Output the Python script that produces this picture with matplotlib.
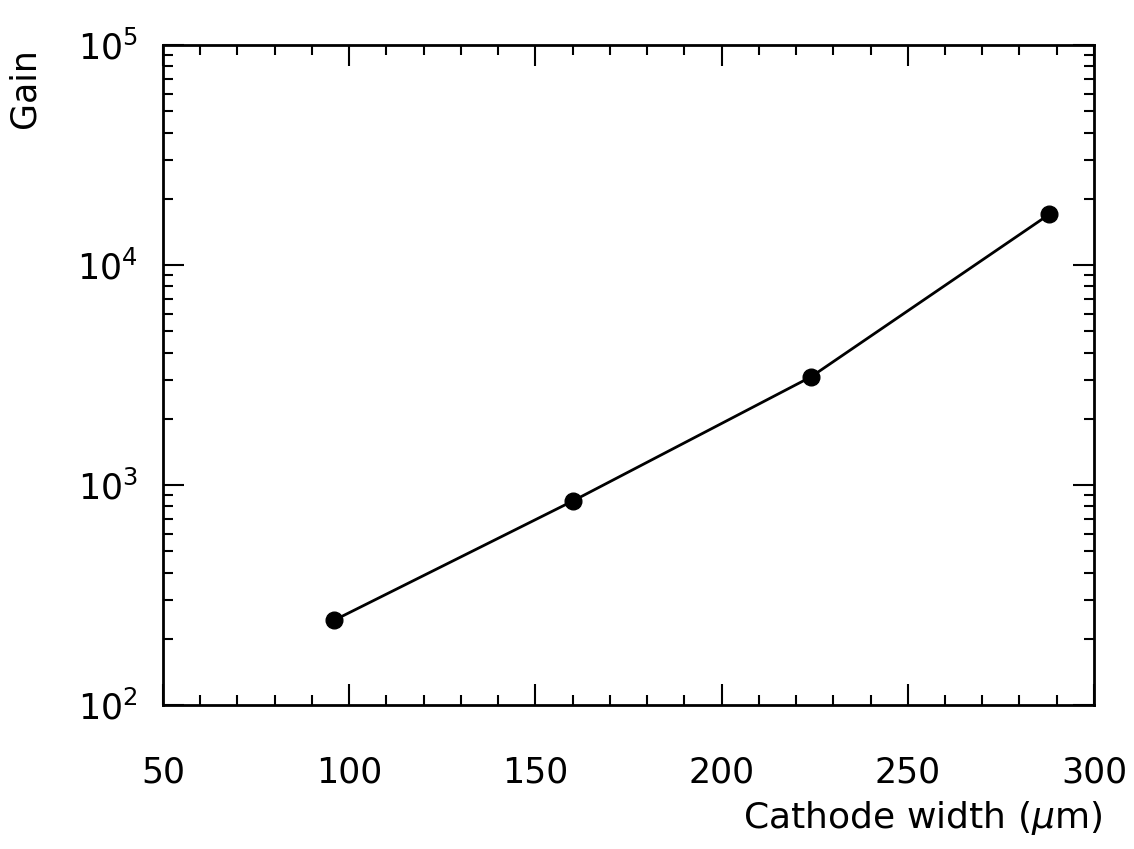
import math
import matplotlib.pyplot as plt
from matplotlib.ticker import LogLocator, MultipleLocator, FixedLocator, FuncFormatter

plt.rcParams['font.family'] = ['DejaVu Sans']
plt.rcParams['mathtext.fontset'] = 'dejavusans'

# cathode width (um) vs. gas gain
cathode_width = [96, 160, 224, 288]
gain = [243, 845, 3100, 17000]

fig = plt.figure(figsize=(11.34, 8.49), dpi=100)
ax = fig.add_axes([0.1437, 0.1696, 0.8210, 0.7774])

ax.plot(cathode_width, gain, color='black', linewidth=2.0,
        marker='o', markersize=12, markerfacecolor='black', markeredgecolor='black')

ax.set_yscale('log')
ax.set_xlim(50, 300)
ax.set_ylim(1e2, 1e5)

ax.xaxis.set_major_locator(MultipleLocator(50))
ax.xaxis.set_minor_locator(MultipleLocator(10))
ax.yaxis.set_major_locator(FixedLocator([1e2, 1e3, 1e4, 1e5]))
ax.yaxis.set_minor_locator(LogLocator(base=10, subs=range(2, 10), numticks=20))
ax.yaxis.set_major_formatter(FuncFormatter(lambda v, _: r'$10^{%d}$' % round(math.log10(v))))

ax.tick_params(which='both', direction='in', top=True, right=True, width=1.5, colors='black')
ax.tick_params(which='major', length=15, labelsize=25, pad=18)
ax.tick_params(axis='x', which='major', pad=36)
ax.tick_params(which='minor', length=7)

for s in ax.spines.values():
    s.set_linewidth(2.0)

fig.text(0.972, 0.037, r'Cathode width ($\mu$m)', ha='right', va='center', fontsize=26)
fig.text(0.022, 0.896, 'Gain', rotation=90, ha='center', va='center', fontsize=25)

fig.savefig('out.png', dpi=100)
